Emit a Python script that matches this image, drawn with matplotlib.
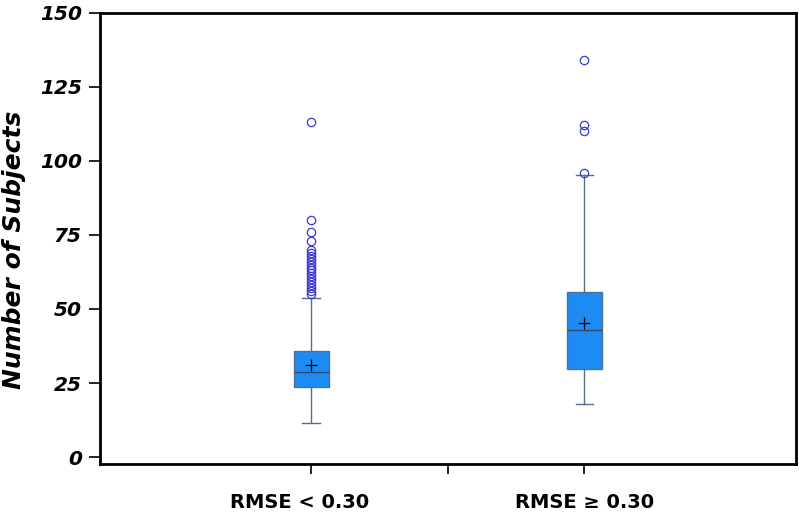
import matplotlib.pyplot as plt
from matplotlib.transforms import ScaledTranslation

plt.rcParams["font.family"] = ["DejaVu Sans"]

# カテゴリと箱ひげ図の統計値
categories = ["RMSE < 0.30", "RMSE \u2265 0.30"]
q1 = [23.6, 29.7]
median = [28.7, 42.9]
q3 = [35.8, 55.7]
mean = [31.0, 45.3]
whisker_low = [11.5, 17.9]
whisker_high = [53.7, 95.3]
outliers_1 = [55, 56, 57, 58, 59, 60, 61, 62, 63, 64, 65, 66, 67, 68, 69, 70,
              73, 76, 80, 113]
outliers_2 = [96, 110, 112, 134]
y_ticks = [0, 25, 50, 75, 100, 125, 150]

BOX_COLOR = "#1E8BF5"
EDGE_COLOR = "#52708F"
FLIER_COLOR = "#3A3AD0"

stats = []
for i, fl in enumerate([outliers_1, outliers_2]):
    stats.append({
        "q1": q1[i], "med": median[i], "q3": q3[i], "mean": mean[i],
        "whislo": whisker_low[i], "whishi": whisker_high[i], "fliers": fl,
    })

fig, ax = plt.subplots(figsize=(7.99, 5.12), dpi=100)
fig.subplots_adjust(left=0.125, right=0.996, top=0.975, bottom=0.094)

ax.bxp(
    stats,
    positions=[1, 2],
    widths=0.13,
    showmeans=True,
    patch_artist=True,
    boxprops=dict(facecolor=BOX_COLOR, edgecolor=EDGE_COLOR, linewidth=1.0),
    medianprops=dict(color="#2F4A66", linewidth=1.0),
    whiskerprops=dict(color=EDGE_COLOR, linewidth=1.0),
    capprops=dict(color=EDGE_COLOR, linewidth=1.0),
    meanprops=dict(marker="+", markeredgecolor="black", markersize=9,
                   markeredgewidth=0.9),
    flierprops=dict(marker="o", markerfacecolor="none",
                    markeredgecolor=FLIER_COLOR, markersize=6,
                    markeredgewidth=0.9),
)

ax.set_xlim(0.226, 2.774)
ax.set_ylim(-2.3, 150)
ax.set_yticks(y_ticks)
ax.set_yticklabels([str(v) for v in y_ticks], fontsize=14.5,
                   fontweight="bold", fontstyle="italic")
ax.set_xticks([1, 1.5, 2])
ax.set_xticklabels([categories[0], "", categories[1]], fontsize=14,
                   fontweight="bold")
ax.tick_params(axis="y", length=8, width=1.2, pad=5)
ax.tick_params(axis="x", length=7, width=1.2, pad=14)

# 左のラベルは元図で少し左に寄っている
lbl = ax.get_xticklabels()[0]
lbl.set_transform(lbl.get_transform()
                  + ScaledTranslation(-12 / 100, 0, fig.dpi_scale_trans))

for spine in ax.spines.values():
    spine.set_linewidth(2)
    spine.set_color("black")

ax.set_ylabel("Number of Subjects", fontsize=18, fontweight="bold",
              fontstyle="italic")
ax.yaxis.set_label_coords(-0.106, 0.474)

fig.savefig("out.png", dpi=100)
